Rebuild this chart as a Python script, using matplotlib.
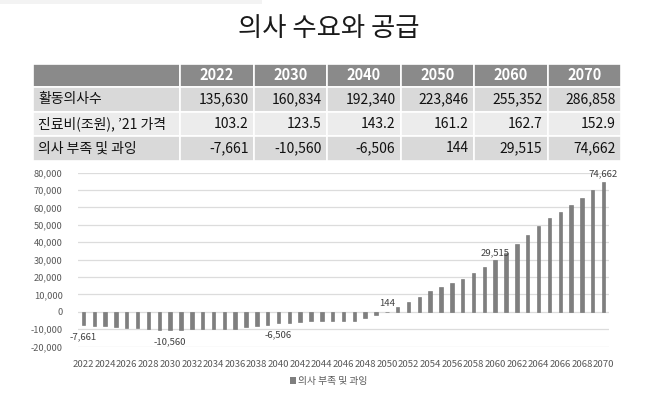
import matplotlib
matplotlib.use("Agg")
import matplotlib.pyplot as plt
from matplotlib.patches import Rectangle, Patch

plt.rcParams['font.family'] = ['Noto Sans CJK KR', 'DejaVu Sans']

# ---------------- data ----------------
title = '의사 수요와 공급'
years = list(range(2022, 2071))
shortage = [-7661, -7900, -8100, -8700, -9100, -9300, -9900, -10300, -10560, -10500,
            -9900, -9900, -9900, -9800, -9700, -8900, -8400, -7400, -6506, -6200,
            -5800, -5400, -5200, -5200, -5200, -5400, -3700, -2000, 144, 2700,
            5600, 8700, 11800, 14200, 16700, 19100, 22100, 25600, 29515, 33900,
            38900, 44100, 49100, 53900, 57200, 61400, 65400, 69900, 74662]
series_name = '의사 부족 및 과잉'
label_years = [2022, 2030, 2040, 2050, 2060, 2070]

table_years = ['2022', '2030', '2040', '2050', '2060', '2070']
row_labels = ['활동의사수', '진료비(조원), \u201921 가격', '의사 부족 및 과잉']
active_doctors = [135630, 160834, 192340, 223846, 255352, 286858]
medical_cost = [103.2, 123.5, 143.2, 161.2, 162.7, 152.9]
shortage_table = [-7661, -10560, -6506, 144, 29515, 74662]
yticks = list(range(-20000, 80001, 10000))

# ---------------- figure ----------------
W, H = 658, 398
fig = plt.figure(figsize=(W / 100, H / 100), dpi=100)
fig.patch.set_facecolor('white')

# overlay axes in pixel coordinates for title/table
ov = fig.add_axes([0, 0, 1, 1])
ov.set_xlim(0, W)
ov.set_ylim(H, 0)
ov.axis('off')

# faint top band
ov.add_patch(Rectangle((0, 0), 262, 3.5, facecolor='#f3f3f3', edgecolor='none'))

ov.text(329, 28, title, ha='center', va='center', fontsize=19, fontweight='light',
        color='#1a1a1a')

# table
x_left, x_first, x_right = 33, 180, 621
col_w = (x_right - x_first) / len(table_years)
row_edges = [64, 87, 111.5, 136, 161]
row_colors = ['#8a8a8a', '#d9d9d9', '#ececec', '#d9d9d9']
for r in range(4):
    y0, y1 = row_edges[r], row_edges[r + 1]
    xs = [x_left, x_first] + [x_first + col_w * (i + 1) for i in range(len(table_years))]
    for c in range(len(xs) - 1):
        ov.add_patch(Rectangle((xs[c], y0), xs[c + 1] - xs[c], y1 - y0,
                               facecolor=row_colors[r], edgecolor='white', linewidth=1.2))

def fmt_int(v):
    return f'{v:,}'

rows = [[fmt_int(v) for v in active_doctors],
        [f'{v:.1f}' for v in medical_cost],
        [fmt_int(v) for v in shortage_table]]

for i, yr in enumerate(table_years):
    cx = x_first + col_w * (i + 0.5)
    ov.text(cx, (row_edges[0] + row_edges[1]) / 2, yr, ha='center', va='center',
            fontsize=10.5, fontweight='bold', color='white')

for r, (lab, vals) in enumerate(zip(row_labels, rows)):
    cy = (row_edges[r + 1] + row_edges[r + 2]) / 2
    ov.text(x_left + 5, cy, lab, ha='left', va='center', fontsize=10, color='#111111')
    for i, v in enumerate(vals):
        rx = x_first + col_w * (i + 1) - 5
        ov.text(rx, cy, v, ha='right', va='center', fontsize=10, color='#111111')

# ---------------- bar chart ----------------
ax = fig.add_axes([78 / W, (H - 346.6) / H, (609 - 78) / W, (346.6 - 172.7) / H])
x = list(range(len(years)))
ax.bar(x, shortage, width=0.32, color='#7f7f7f', edgecolor='#6e6e6e', linewidth=0.4, zorder=3)
ax.set_xlim(-0.5, len(years) - 0.5)
ax.set_ylim(-20000, 80000)
ax.set_yticks(yticks)
ax.set_yticklabels([f'{v:,}' for v in yticks], fontsize=6.7, color='#595959')
ax.set_xticks(x[::2])
ax.set_xticklabels([str(y) for y in years[::2]], fontsize=6.9, color='#595959')
ax.tick_params(axis='both', length=0)
ax.tick_params(axis='x', pad=10)
ax.tick_params(axis='y', pad=11)
ax.grid(axis='y', color='#dcdcdc', linewidth=0.9, zorder=0)
for s in ax.spines.values():
    s.set_visible(False)

for yr in label_years:
    i = years.index(yr)
    v = shortage[i]
    if v >= 0:
        ax.annotate(f'{v:,}', (i, v), xytext=(0, 2.5), textcoords='offset points',
                    ha='center', va='bottom', fontsize=6.9, color='#404040')
    else:
        ax.annotate(f'{v:,}', (i, v), xytext=(0, -5), textcoords='offset points',
                    ha='center', va='top', fontsize=6.9, color='#404040')

fig.legend(handles=[Patch(facecolor='#7f7f7f', edgecolor='none', label=series_name)],
           loc='center', bbox_to_anchor=(329 / W, (H - 381) / H), frameon=False,
           fontsize=7, handlelength=0.6, handleheight=0.6, handletextpad=0.2,
           labelcolor='#595959')

fig.savefig('out.png', dpi=100)
